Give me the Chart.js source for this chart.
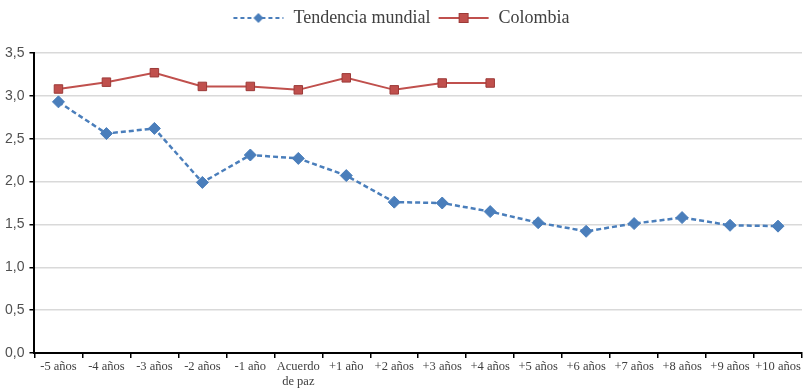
<!DOCTYPE html>
<html>
<head>
<meta charset="utf-8">
<script src="https://cdn.jsdelivr.net/npm/chart.js@4/dist/chart.umd.min.js"></script>
<style>
  html, body { margin: 0; padding: 0; background: #fff; }
  #wrap { width: 810px; height: 390px; }
</style>
</head>
<body>
<div id="wrap"><canvas id="myChart" width="810" height="390"></canvas></div>
<script>
const labels = ['-5 años', '-4 años', '-3 años', '-2 años', '-1 año', ['Acuerdo', 'de paz'],
  '+1 año', '+2 años', '+3 años', '+4 años', '+5 años', '+6 años', '+7 años', '+8 años', '+9 años', '+10 años'];
const tendencia = [2.93, 2.56, 2.62, 1.99, 2.31, 2.27, 2.07, 1.76, 1.75, 1.65, 1.52, 1.42, 1.51, 1.58, 1.49, 1.48];
const colombia = [3.08, 3.16, 3.27, 3.11, 3.11, 3.07, 3.21, 3.07, 3.15, 3.15];

const blue = '#4a7ebb';
const red = '#c0504d';

// little legend swatches: line + marker
function swatch(color, dashed, shape) {
  const c = document.createElement('canvas');
  c.width = 52; c.height = 14;
  const g = c.getContext('2d');
  g.strokeStyle = color;
  g.lineWidth = 2;
  if (dashed) g.setLineDash([4, 3]);
  g.beginPath(); g.moveTo(1, 7); g.lineTo(51, 7); g.stroke();
  g.setLineDash([]);
  g.fillStyle = color;
  if (shape === 'diamond') {
    g.beginPath(); g.moveTo(26, 2); g.lineTo(31, 7); g.lineTo(26, 12); g.lineTo(21, 7); g.closePath(); g.fill();
  } else {
    g.fillRect(21, 2, 10, 10);
    g.strokeStyle = '#9c3a38'; g.lineWidth = 1; g.strokeRect(21.5, 2.5, 9, 9);
  }
  return c;
}
const swatches = [swatch(blue, true, 'diamond'), swatch(red, false, 'square')];

// push the plot area down a bit under the legend
const legendGap = {
  id: 'legendGap',
  beforeInit(chart) {
    const fit = chart.legend.fit;
    chart.legend.fit = function() {
      fit.bind(chart.legend)();
      this.height += 16;
    };
  }
};

const ctx = document.getElementById('myChart');
const myChart = new Chart(ctx, {
  type: 'line',
  data: {
    labels: labels,
    datasets: [{
      label: 'Tendencia mundial',
      data: tendencia,
      borderColor: blue,
      backgroundColor: blue,
      borderWidth: 2.5,
      borderDash: [5, 3],
      pointStyle: 'rectRot',
      pointRadius: 6,
      pointHoverRadius: 6,
      pointBorderWidth: 1,
      pointBorderColor: blue,
      fill: false,
      tension: 0
    }, {
      label: 'Colombia',
      data: colombia,
      borderColor: red,
      backgroundColor: red,
      borderWidth: 2,
      pointStyle: 'rect',
      pointRadius: 6,
      pointHoverRadius: 6,
      pointBorderWidth: 1,
      pointBorderColor: '#9c3a38',
      fill: false,
      tension: 0
    }]
  },
  options: {
    responsive: false,
    animation: false,
    layout: { padding: { left: 0, right: 8, top: 2, bottom: 0 } },
    plugins: {
      legend: {
        position: 'top',
        labels: {
          usePointStyle: true,
          pointStyleWidth: 52,
          color: '#404040',
          font: { family: 'Liberation Serif', size: 18 },
          padding: 7,
          generateLabels: function(chart) {
            return chart.data.datasets.map(function(ds, i) {
              return {
                text: ds.label,
                pointStyle: swatches[i],
                fillStyle: ds.borderColor,
                strokeStyle: ds.borderColor,
                lineWidth: 0,
                hidden: false,
                datasetIndex: i,
                fontColor: '#404040'
              };
            });
          }
        }
      },
      tooltip: { enabled: false }
    },
    scales: {
      x: {
        offset: true,
        grid: { offset: true, drawOnChartArea: false, drawTicks: true, tickLength: 5, color: '#000', lineWidth: 1.5 },
        border: { color: '#000', width: 2 },
        ticks: {
          autoSkip: false,
          maxRotation: 0,
          color: '#404040',
          font: { family: 'Liberation Serif', size: 12.5 },
          padding: 1
        }
      },
      y: {
        min: 0,
        max: 3.5,
        ticks: {
          stepSize: 0.5,
          color: '#505050',
          font: { family: 'Liberation Sans', size: 14 },
          padding: 5,
          callback: function(v) { return v.toFixed(1).replace('.', ','); }
        },
        grid: { color: '#d9d9d9', lineWidth: 1.5, tickColor: '#000', tickLength: 5 },
        border: { color: '#000', width: 2 }
      }
    }
  },
  plugins: [legendGap]
});
</script>
</body>
</html>
